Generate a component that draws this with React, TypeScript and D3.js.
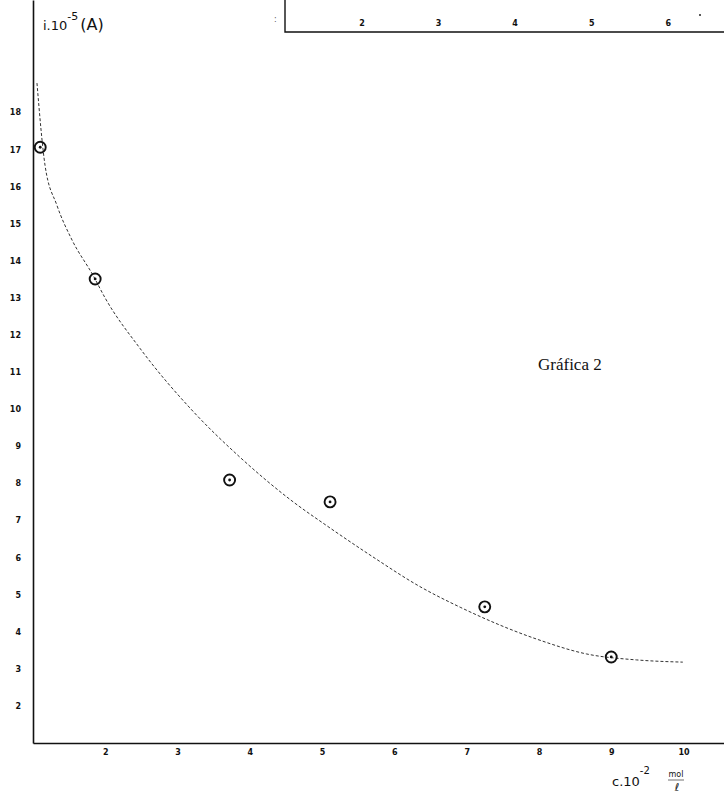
import { useEffect, useRef } from 'react';
import * as d3 from 'd3';

// measured points (c.10^-2 mol/l , i.10^-5 A)
const pointC = [1.1, 1.86, 3.72, 5.11, 7.25, 9.0];
const pointI = [17.06, 13.51, 8.09, 7.5, 4.67, 3.32];

// hand-drawn fitted curve
const curveC = [1.055, 1.166, 1.33, 1.54, 1.83, 2.0, 2.48, 3.21, 3.86, 4.6, 5.07, 5.7, 6.35, 6.91, 7.97, 8.66, 9.35, 9.99];
const curveI = [18.79, 16.58, 15.5, 14.56, 13.61, 12.99, 11.64, 9.95, 8.71, 7.5, 6.85, 6.02, 5.22, 4.66, 3.8, 3.4, 3.24, 3.18];

const xTicks = [2, 3, 4, 5, 6, 7, 8, 9, 10];
const yTicks = [2, 3, 4, 5, 6, 7, 8, 9, 10, 11, 12, 13, 14, 15, 16, 17, 18];

// axis of the neighbouring chart that shows at the top edge of the scan
const insetTicks = [2, 3, 4, 5, 6];

const title = 'Gráfica 2';

export default function App() {
  const ref = useRef<SVGSVGElement>(null);
  const width = 724;
  const height = 796;

  useEffect(() => {
    const svg = d3.select(ref.current);
    svg.selectAll('*').remove();

    const x = d3.scaleLinear().domain([1, 10.56]).range([33, 724]);
    const y = d3.scaleLinear().domain([1, 21.03]).range([743, 0]);
    const hand = 'DejaVu Sans';

    svg.append('rect').attr('width', width).attr('height', height).attr('fill', '#fff');

    // x axis
    const gx = svg.append('g').attr('transform', 'translate(0,743)')
      .call(d3.axisBottom(x).tickValues(xTicks).tickSize(0).tickPadding(6).tickFormat(d3.format('d')));
    gx.select('.domain').attr('stroke', '#111').attr('stroke-width', 1.6);
    gx.selectAll('text').attr('font-family', hand).attr('font-size', 8).attr('font-weight', 'bold').attr('fill', '#111');

    // y axis
    const gy = svg.append('g').attr('transform', 'translate(33,0)')
      .call(d3.axisLeft(y).tickValues(yTicks).tickSize(0).tickPadding(12).tickFormat(d3.format('d')));
    gy.select('.domain').attr('stroke', '#111').attr('stroke-width', 1.6);
    gy.selectAll('text').attr('font-family', hand).attr('font-size', 8).attr('font-weight', 'bold').attr('fill', '#111');

    // curve
    const line = d3.line<number>()
      .x((d, i) => x(curveC[i]))
      .y((d) => y(d))
      .curve(d3.curveMonotoneX);
    svg.append('path')
      .attr('d', line(curveI))
      .attr('fill', 'none')
      .attr('stroke', '#333')
      .attr('stroke-width', 1)
      .attr('stroke-dasharray', '3,2');

    // points
    const pts = svg.append('g').selectAll('g').data(pointI).enter().append('g')
      .attr('transform', (d, i) => `translate(${x(pointC[i])},${y(d)})`);
    pts.append('circle').attr('r', 5.5).attr('fill', 'none').attr('stroke', '#111').attr('stroke-width', 1.9);
    pts.append('circle').attr('r', 1.4).attr('fill', '#111');

    // inset axis at top
    const xi = d3.scaleLinear().domain([1, 6.5]).range([285, 706]);
    const gi = svg.append('g').attr('transform', 'translate(0,32)')
      .call(d3.axisBottom(xi).tickValues(insetTicks).tickSize(0).tickPadding(-12).tickFormat(d3.format('d')));
    gi.select('.domain').remove();
    gi.selectAll('text').attr('font-family', hand).attr('font-size', 8).attr('font-weight', 'bold').attr('fill', '#111');
    svg.append('path').attr('d', 'M285,0V32H724').attr('fill', 'none').attr('stroke', '#111').attr('stroke-width', 1.4);
    svg.append('text').attr('x', 274).attr('y', 22).attr('font-size', 8).attr('font-family', hand).attr('fill', '#555').text(':');
    svg.append('circle').attr('cx', 700).attr('cy', 15).attr('r', 1).attr('fill', '#222');

    // y label
    const yl = svg.append('text').attr('x', 43).attr('y', 30).attr('font-family', hand).attr('fill', '#111');
    yl.append('tspan').attr('font-size', 13).text('i.10');
    yl.append('tspan').attr('font-size', 11).attr('dy', -10).text('-5');
    yl.append('tspan').attr('font-size', 16).attr('dy', 10).attr('dx', 2).text('(A)');

    // x label
    const xl = svg.append('text').attr('x', 612).attr('y', 786).attr('font-family', hand).attr('fill', '#111');
    xl.append('tspan').attr('font-size', 13).text('c.10');
    xl.append('tspan').attr('font-size', 10).attr('dy', -12).text('-2');
    svg.append('text').attr('x', 676).attr('y', 777).attr('font-family', hand).attr('font-size', 8)
      .attr('text-anchor', 'middle').attr('fill', '#111').text('mol');
    svg.append('line').attr('x1', 668).attr('x2', 684).attr('y1', 780).attr('y2', 780).attr('stroke', '#111').attr('stroke-width', 0.6);
    svg.append('text').attr('x', 677).attr('y', 791).attr('font-family', hand).attr('font-size', 11)
      .attr('text-anchor', 'middle').attr('fill', '#111').text('ℓ');

    // title
    svg.append('text').attr('x', 538).attr('y', 370).attr('font-family', 'Liberation Serif')
      .attr('font-size', 17).attr('fill', '#111').text(title);
  }, []);

  return (
    <svg ref={ref} width={width} height={height}
      style={{ position: 'absolute', left: 0, top: 0, display: 'block' }} />
  );
}
